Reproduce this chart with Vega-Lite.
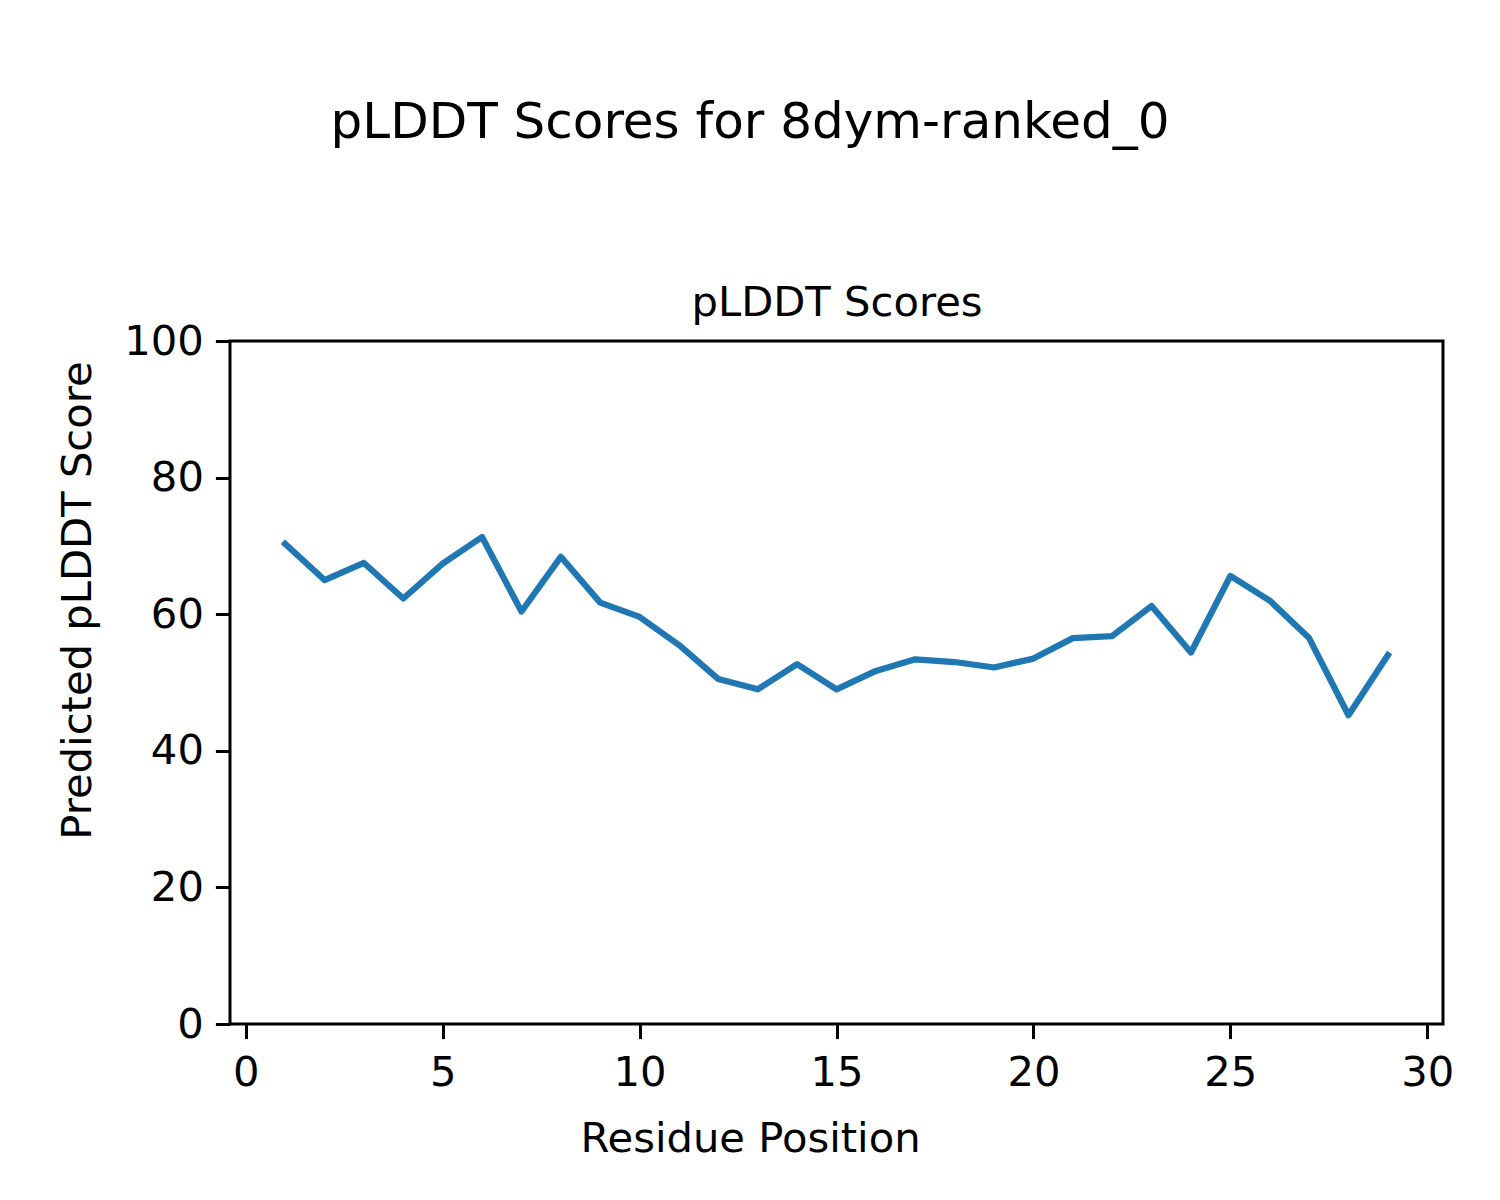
{
  "$schema": "https://vega.github.io/schema/vega-lite/v6.json",
  "width": 1213,
  "height": 683,
  "autosize": {"type": "none"},
  "padding": {"left": 230, "top": 341, "right": 57, "bottom": 176},
  "background": "white",
  "title": {
    "text": "pLDDT Scores for 8dym-ranked_0",
    "anchor": "middle",
    "frame": "group",
    "dx": -86.5,
    "fontSize": 50,
    "font": "DejaVu Sans",
    "fontWeight": "normal",
    "color": "black",
    "baseline": "alphabetic",
    "offset": 94
  },
  "config": {
    "view": {"stroke": "black", "strokeWidth": 3},
    "font": "DejaVu Sans",
    "axis": {
      "domain": false,
      "grid": false,
      "labelFont": "DejaVu Sans",
      "titleFont": "DejaVu Sans",
      "labelFontSize": 41.7,
      "titleFontSize": 41.7,
      "labelColor": "black",
      "titleColor": "black",
      "titleFontWeight": "normal",
      "tickColor": "black",
      "tickWidth": 3,
      "tickSize": 14.6,
      "labelPadding": 12
    }
  },
  "data": {
    "values": [
      {"residue": 1, "plddt": 70.3},
      {"residue": 2, "plddt": 65.0},
      {"residue": 3, "plddt": 67.5},
      {"residue": 4, "plddt": 62.3},
      {"residue": 5, "plddt": 67.4},
      {"residue": 6, "plddt": 71.3},
      {"residue": 7, "plddt": 60.4},
      {"residue": 8, "plddt": 68.4},
      {"residue": 9, "plddt": 61.7},
      {"residue": 10, "plddt": 59.6},
      {"residue": 11, "plddt": 55.5},
      {"residue": 12, "plddt": 50.5},
      {"residue": 13, "plddt": 49.0},
      {"residue": 14, "plddt": 52.7},
      {"residue": 15, "plddt": 49.0},
      {"residue": 16, "plddt": 51.7},
      {"residue": 17, "plddt": 53.4},
      {"residue": 18, "plddt": 53.0},
      {"residue": 19, "plddt": 52.2},
      {"residue": 20, "plddt": 53.5},
      {"residue": 21, "plddt": 56.5},
      {"residue": 22, "plddt": 56.8},
      {"residue": 23, "plddt": 61.2},
      {"residue": 24, "plddt": 54.4},
      {"residue": 25, "plddt": 65.6},
      {"residue": 26, "plddt": 62.0},
      {"residue": 27, "plddt": 56.5},
      {"residue": 28, "plddt": 45.2},
      {"residue": 29, "plddt": 54.0}
    ]
  },
  "layer": [
    {
      "mark": {"type": "line", "color": "#1f77b4", "strokeWidth": 6.25, "strokeCap": "square", "strokeJoin": "round"},
      "encoding": {
        "x": {
          "field": "residue",
          "type": "quantitative",
          "scale": {"domain": [-0.4, 30.4], "nice": false, "zero": false},
          "axis": {"orient": "bottom", "title": "Residue Position", "values": [0, 5, 10, 15, 20, 25, 30], "labelPadding": 14, "titlePadding": 24, "titleX": 520, "titleAlign": "center", "titleAnchor": null}
        },
        "y": {
          "field": "plddt",
          "type": "quantitative",
          "scale": {"domain": [0, 100], "nice": false},
          "axis": {"title": "Predicted pLDDT Score", "values": [0, 20, 40, 60, 80, 100], "titlePadding": 24, "titleY": 259, "titleAlign": "center"}
        }
      }
    },
    {
      "mark": {"type": "line", "opacity": 0},
      "encoding": {
        "x": {
          "field": "residue",
          "type": "quantitative",
          "scale": {"domain": [-0.4, 30.4], "nice": false, "zero": false},
          "axis": {"orient": "top", "title": "pLDDT Scores", "labels": false, "ticks": false, "titlePadding": 26, "titleBaseline": "alphabetic"}
        },
        "y": {"field": "plddt", "type": "quantitative"}
      }
    }
  ],
  "resolve": {"axis": {"x": "independent"}}
}
